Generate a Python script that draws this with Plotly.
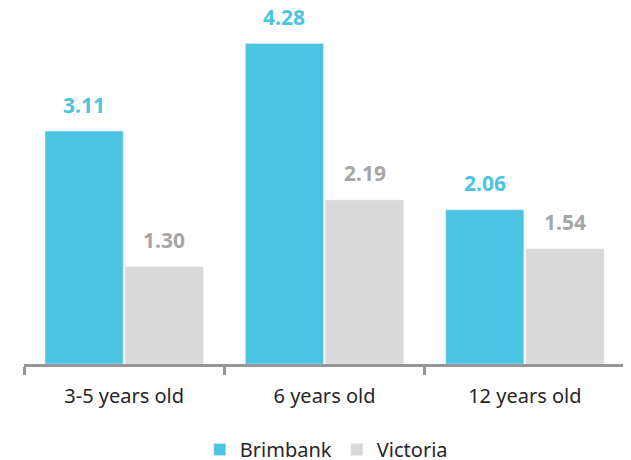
import plotly.graph_objects as go

categories = ["3-5 years old", "6 years old", "12 years old"]
brimbank = [3.11, 4.28, 2.06]
victoria = [1.30, 2.19, 1.54]

blue = "#4BC4E3"
grey = "#D9D9D9"
grey_text = "#A6A6A6"
axis_grey = "#969696"
font_fam = "Noto Sans, sans-serif"

fig = go.Figure()
fig.add_trace(go.Bar(name="Brimbank", x=categories, y=brimbank, marker_color=blue))
fig.add_trace(go.Bar(name="Victoria", x=categories, y=victoria, marker_color=grey))

annotations = []
for series, color, shift in [(brimbank, blue, -40.1), (victoria, grey_text, 40.1)]:
    for c, v in zip(categories, series):
        annotations.append(dict(
            x=c, y=v, xref="x", yref="y", text="<b>%.2f</b>" % v, showarrow=False,
            xshift=shift, yshift=26.5, yanchor="middle",
            font=dict(size=21, color=color, family="Noto Sans, sans-serif"),
        ))

fig.update_layout(
    autosize=False,
    width=631, height=460,
    margin=dict(l=16, r=13.5, t=10, b=103.5, pad=0),
    plot_bgcolor="white", paper_bgcolor="white",
    barmode="group", bargap=0.2, bargroupgap=0.025,
    font=dict(family=font_fam, size=18, color="#262626"),
    showlegend=True,
    legend=dict(orientation="h", x=0.503, xanchor="center",
                yref="container", y=0.0402, yanchor="middle",
                font=dict(size=20, color="#262626"), itemwidth=30, traceorder="normal"),
    annotations=annotations,
    xaxis=dict(showline=True, linecolor=axis_grey, linewidth=2.5, ticks="outside",
               tickson="boundaries", ticklen=8, tickcolor=axis_grey, tickwidth=2.5,
               ticklabelstandoff=12,
               tickfont=dict(size=20, color="#262626")),
    yaxis=dict(visible=False, range=[0, 4.62]),
)

fig.write_html("out.html")
